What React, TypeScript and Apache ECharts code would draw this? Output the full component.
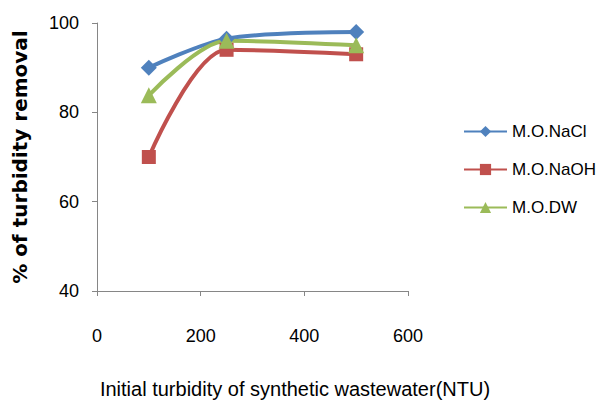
import React, { useEffect, useRef } from "react";
import * as echarts from "echarts";

const xValues = [100, 250, 500];
const naclValues = [90, 96.5, 98];
const naohValues = [70, 94, 93];
const dwValues = [83.8, 96, 95];
const seriesNames = ["M.O.NaCl", "M.O.NaOH", "M.O.DW"];
const colors = ["#4F81BD", "#C0504D", "#9BBB59"];
const xTitle = "Initial turbidity of synthetic wastewater(NTU)";
const yTitle = "% of turbidity removal";

const FONT = "'Liberation Sans', Arial, sans-serif";

export default function App() {
  const ref = useRef<HTMLDivElement>(null);
  useEffect(() => {
    if (!ref.current) return;
    const chart = echarts.init(ref.current, null, { renderer: "svg" });
    const mk = (name: string, vals: number[], color: string, symbol: string, size: number) => ({
      name,
      type: "line",
      smooth: 0.3,
      data: xValues.map((x, i) => [x, vals[i]]),
      symbol,
      symbolSize: size,
      lineStyle: { color, width: 4 },
      itemStyle: { color },
      emphasis: { disabled: true },
    });
    chart.setOption({
      animation: false,
      backgroundColor: "#ffffff",
      grid: { left: 97, right: 196, top: 23, bottom: 112, containLabel: false },
      legend: {
        orient: "vertical",
        left: 463,
        top: 123,
        padding: 0,
        itemWidth: 43,
        itemHeight: 14,
        itemGap: 21,
        data: seriesNames,
        textStyle: { fontFamily: FONT, fontSize: 17, color: "#000" },
      },
      graphic: [
        {
          type: "text",
          x: 295,
          y: 389,
          style: {
            text: xTitle,
            font: "20px 'Liberation Sans', Arial, sans-serif",
            fill: "#000",
            align: "center",
            verticalAlign: "middle",
          },
        },
      ],
      xAxis: {
        type: "value",
        min: 0,
        max: 600,
        interval: 200,
        axisLine: { show: true, lineStyle: { color: "#868686", width: 1 } },
        axisTick: { show: true, length: 5, lineStyle: { color: "#868686" } },
        axisLabel: { fontFamily: FONT, fontSize: 18, color: "#000", margin: 36 },
        splitLine: { show: false },
      },
      yAxis: {
        type: "value",
        min: 40,
        max: 100,
        interval: 20,
        name: yTitle,
        nameLocation: "middle",
        nameGap: 67,
        nameTextStyle: { fontFamily: "'DejaVu Sans', sans-serif", fontSize: 20, fontWeight: "bold", color: "#000" },
        axisLine: { show: true, lineStyle: { color: "#868686", width: 1 } },
        axisTick: { show: true, length: 5, lineStyle: { color: "#868686" } },
        axisLabel: { fontFamily: FONT, fontSize: 18, color: "#000", margin: 18 },
        splitLine: { show: false },
      },
      series: [
        mk(seriesNames[0], naclValues, colors[0], "diamond", 16),
        mk(seriesNames[1], naohValues, colors[1], "rect", 14),
        mk(seriesNames[2], dwValues, colors[2], "triangle", 16),
      ],
    });
    return () => chart.dispose();
  }, []);
  return <div ref={ref} style={{ width: 604, height: 403, position: "absolute", left: 0, top: 0 }} />;
}
